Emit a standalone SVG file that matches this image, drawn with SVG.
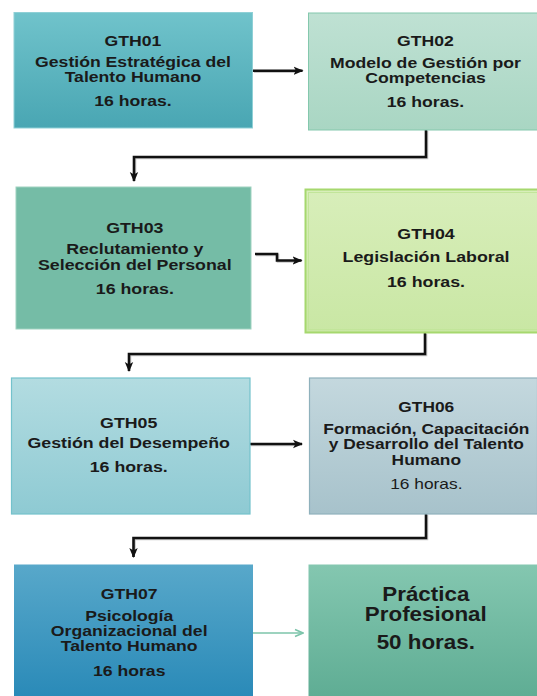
<svg xmlns="http://www.w3.org/2000/svg" width="537" height="696" viewBox="0 0 537 696">
<defs>
<linearGradient id="g1" x1="0" y1="0" x2="0" y2="1"><stop offset="0" stop-color="#70c3cb"/><stop offset="1" stop-color="#49a6b3"/></linearGradient>
<linearGradient id="g2" x1="0" y1="0" x2="0" y2="1"><stop offset="0" stop-color="#bfe1d3"/><stop offset="1" stop-color="#a9d6c3"/></linearGradient>
<linearGradient id="g4" x1="0" y1="0" x2="0" y2="1"><stop offset="0" stop-color="#d8eeba"/><stop offset="1" stop-color="#c9e7a4"/></linearGradient>
<linearGradient id="g5" x1="0" y1="0" x2="0" y2="1"><stop offset="0" stop-color="#b3dce1"/><stop offset="1" stop-color="#8ecad3"/></linearGradient>
<linearGradient id="g6" x1="0" y1="0" x2="0" y2="1"><stop offset="0" stop-color="#c4d8de"/><stop offset="1" stop-color="#a7c2cb"/></linearGradient>
<linearGradient id="g7" x1="0" y1="0" x2="0" y2="1"><stop offset="0" stop-color="#58a8ca"/><stop offset="1" stop-color="#2a8ab8"/></linearGradient>
<linearGradient id="g8" x1="0" y1="0" x2="0" y2="1"><stop offset="0" stop-color="#84c7b0"/><stop offset="1" stop-color="#5fad94"/></linearGradient>
<marker id="ah" markerUnits="userSpaceOnUse" markerWidth="10" markerHeight="10" viewBox="0 0 10 10" refX="9" refY="5" orient="auto"><path d="M0,0.8 L10,5 L0,9.2 L2.5,5 Z" fill="#111"/></marker>
<marker id="aht" markerUnits="userSpaceOnUse" markerWidth="10" markerHeight="10" viewBox="0 0 10 10" refX="9" refY="5" orient="auto"><path d="M1,1.5 L9,5 L1,8.5" fill="none" stroke="#7cc4aa" stroke-width="1.5"/></marker>
</defs>
<style>
text{font-family:"Liberation Sans",Arial,sans-serif;font-size:14px;font-weight:bold;fill:#1a1a1a;text-anchor:middle}
.n{font-weight:normal}
.big{font-size:20px}
.c{fill:none;stroke:#111;stroke-width:2.6}
.sh{fill:none;stroke:#888;stroke-width:2.6;opacity:0.45}
</style>
<g id="connectors">
<g transform="translate(1,1)">
<path class="sh" d="M253,70.7 H297"/>
<path class="sh" d="M426,130 V157 H134 V176"/>
<path class="sh" d="M255,254 H277 V260.5 H296"/>
<path class="sh" d="M425,333 V354 H129 V366"/>
<path class="sh" d="M250,444 H296"/>
<path class="sh" d="M426,514 V538 H133.5 V552"/>
</g>
<path class="c" d="M253,70.7 H302.5" marker-end="url(#ah)"/>
<path class="c" d="M426,130 V157 H134 V181" marker-end="url(#ah)"/>
<path class="c" d="M255,254 H277 V260.5 H301.5" marker-end="url(#ah)"/>
<path class="c" d="M425,333 V354 H129 V371" marker-end="url(#ah)"/>
<path class="c" d="M250,444 H302" marker-end="url(#ah)"/>
<path class="c" d="M426,514 V538 H133.5 V557" marker-end="url(#ah)"/>
<path d="M253,633 H303" fill="none" stroke="#7cc4aa" stroke-width="1.5" marker-end="url(#aht)"/>
</g>
<g id="GTH01">
<rect x="14" y="12.5" width="238.5" height="115.5" fill="url(#g1)" stroke="#8fd0d6" stroke-width="1"/>
<g transform="translate(133,0) scale(1.26,1)">
<text x="0" y="45.7">GTH01</text>
<text x="0" y="66.7">Gestión Estratégica del</text>
<text x="0" y="81.7">Talento Humano</text>
<text x="0" y="106">16 horas.</text>
</g>
</g>
<g id="GTH02">
<rect x="308.5" y="13" width="229" height="117" fill="url(#g2)" stroke="#84c8ad" stroke-width="1"/>
<g transform="translate(425.5,0) scale(1.26,1)">
<text x="0" y="46">GTH02</text>
<text x="0" y="68.3">Modelo de Gestión por</text>
<text x="0" y="82.7">Competencias</text>
<text x="0" y="106.7">16 horas.</text>
</g>
</g>
<g id="GTH03">
<rect x="16" y="187" width="235" height="142" fill="#75bca6" stroke="#9fd2c0" stroke-width="1"/>
<g transform="translate(134.8,0) scale(1.27,1)">
<text x="0" y="232.7">GTH03</text>
<text x="0" y="254.3">Reclutamiento y</text>
<text x="0" y="270">Selección del Personal</text>
<text x="0" y="294">16 horas.</text>
</g>
</g>
<g id="GTH04">
<rect x="305.5" y="189.5" width="233" height="143" fill="url(#g4)" stroke="#a6d86e" stroke-width="2"/>
<rect x="308.5" y="192.5" width="230" height="137" fill="none" stroke="#c2e59a" stroke-width="1"/>
<g transform="translate(426,0) scale(1.27,1)">
<text x="0" y="239">GTH04</text>
<text x="0" y="261.7">Legislación Laboral</text>
<text x="0" y="286.7">16 horas.</text>
</g>
</g>
<g id="GTH05">
<rect x="11.5" y="378" width="238.5" height="136" fill="url(#g5)" stroke="#74c2cc" stroke-width="1.2"/>
<g transform="translate(128.7,0) scale(1.27,1)">
<text x="0" y="427.7">GTH05</text>
<text x="0" y="448.3">Gestión del Desempeño</text>
<text x="0" y="471.7">16 horas.</text>
</g>
</g>
<g id="GTH06">
<rect x="309.5" y="378" width="228" height="136" fill="url(#g6)" stroke="#8fb1bc" stroke-width="1.2"/>
<g transform="translate(426.3,0) scale(1.24,1)">
<text x="0" y="412.3">GTH06</text>
<text x="0" y="434">Formación, Capacitación</text>
<text x="0" y="449.3">y Desarrollo del Talento</text>
<text x="0" y="465">Humano</text>
<text class="n" x="0" y="489.3">16 horas.</text>
</g>
</g>
<g id="GTH07">
<rect x="14" y="564.5" width="239" height="132" fill="url(#g7)"/>
<g transform="translate(129.2,0) scale(1.26,1)">
<text x="0" y="599">GTH07</text>
<text x="0" y="620.7">Psicología</text>
<text x="0" y="635.7">Organizacional del</text>
<text x="0" y="651">Talento Humano</text>
<text x="0" y="675.7">16 horas</text>
</g>
</g>
<g id="Practica">
<rect x="308.5" y="564.5" width="229" height="132" fill="url(#g8)"/>
<g transform="translate(425.8,0) scale(1.12,1)">
<text class="big" x="0" y="601">Práctica</text>
<text class="big" x="0" y="620.7">Profesional</text>
<text class="big" x="0" y="649">50 horas.</text>
</g>
</g>
</svg>
